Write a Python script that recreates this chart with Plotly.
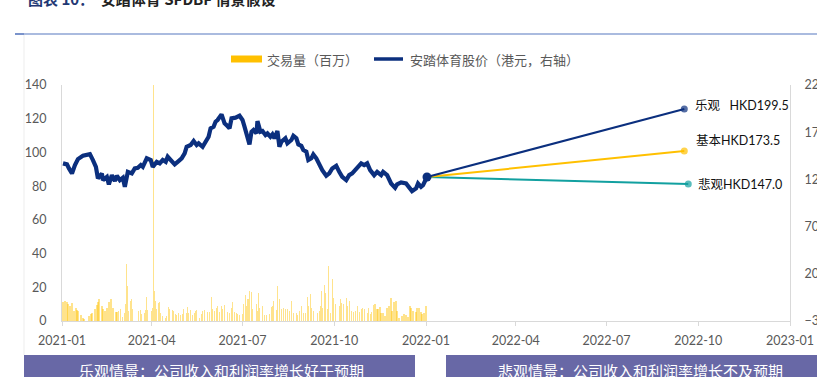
import pandas as pd
import plotly.graph_objects as go

# ---------------- data ----------------
BASE_DATE = "2021-01-01"

# daily trading volume, millions (days since 2021-01-01)
vol_day = [1, 3, 5, 6, 8, 10, 12, 14, 15, 16,
           19, 21, 22, 27, 29, 30, 33, 35, 36, 37,
           40, 41, 43, 45, 47, 49, 51, 54, 55, 57,
           59, 61, 63, 64, 65, 66, 67, 69, 70, 71,
           77, 79, 80, 83, 84, 85, 86, 90, 91, 92,
           93, 94, 95, 97, 98, 99, 101, 104, 105, 107,
           108, 111, 112, 114, 115, 117, 119, 121, 122, 125,
           126, 127, 129, 131, 133, 134, 135, 138, 140, 141,
           143, 146, 148, 150, 151, 153, 155, 156, 158, 160,
           161, 163, 166, 168, 170, 171, 173, 175, 176, 178,
           181, 182, 184, 185, 186, 187, 188, 190, 191, 195,
           196, 197, 198, 201, 203, 205, 208, 210, 211, 212,
           215, 216, 218, 220, 222, 224, 226, 228, 230, 232,
           235, 236, 238, 240, 242, 244, 246, 247, 249, 250,
           252, 256, 258, 259, 260, 261, 263, 264, 266, 267,
           269, 271, 272, 274, 278, 279, 280, 282, 285, 286,
           288, 290, 292, 294, 296, 298, 300, 301, 303, 306,
           307, 309, 310, 312, 314, 316, 317, 319, 320, 322,
           324, 326, 328, 330, 331, 333, 335, 336, 338, 341,
           343, 345, 347, 349, 350, 352, 355, 356, 358, 360,
           361, 363, 365]
vol_val = [11.3, 11.9, 11.3, 9.8, 9.0, 10.5, 6.0, 7.5, 6.7, 6.0,
           3.4, 2.0, 1.4, 3.0, 4.0, 5.0, 7.0, 9.4, 11.3, 13.0,
           8.9, 7.3, 6.0, 7.9, 11.3, 13.3, 7.9, 5.4, 5.4, 6.0,
           6.9, 2.6, 5.0, 9.9, 33.7, 20.8, 6.0, 11.9, 12.9, 6.9,
           6.0, 6.5, 4.0, 5.0, 6.5, 14.5, 6.5, 6.0, 7.9, 160,
           17.8, 11.9, 6.9, 10.9, 11.3, 4.6, 3.0, 2.0, 3.0, 8.5,
           7.3, 6.5, 6.0, 4.0, 3.4, 4.6, 3.4, 4.0, 6.9, 5.0,
           8.5, 4.6, 6.5, 3.4, 5.0, 6.0, 6.5, 2.0, 4.0, 6.0,
           6.3, 5.4, 5.4, 14.5, 6.9, 6.0, 7.9, 8.9, 5.4, 8.9,
           7.3, 9.3, 5.4, 5.0, 7.9, 11.3, 5.4, 4.6, 4.0, 3.4,
           4.0, 9.9, 15.2, 8.9, 12.9, 12.9, 17.8, 17.2, 6.9, 9.9,
           5.9, 16.4, 7.9, 8.9, 3.4, 3.4, 4.0, 8.5, 8.9, 11.9,
           6.5, 20.8, 12.9, 7.3, 7.9, 7.3, 7.3, 5.9, 11.9, 5.0,
           4.6, 3.4, 5.9, 8.9, 4.6, 4.6, 14.5, 8.9, 15.8, 7.9,
           5.9, 4.6, 5.9, 8.9, 17.8, 7.9, 21.2, 16.8, 6.9, 32.7,
           4.9, 24.8, 13.9, 9.9, 8.9, 12.9, 10.9, 9.9, 13.9, 8.9,
           11.9, 5.9, 5.4, 5.9, 8.9, 5.4, 6.9, 7.9, 7.3, 5.0,
           7.9, 4.0, 5.4, 9.3, 9.9, 6.9, 7.3, 8.5, 4.6, 5.0,
           3.0, 7.9, 8.9, 13.9, 5.9, 11.3, 11.9, 5.9, 2.0, 3.0,
           4.0, 3.4, 2.6, 8.9, 7.9, 5.9, 5.4, 7.9, 7.9, 5.4,
           4.0, 5.0, 8.9]

# share price, HKD (right axis), days since 2021-01-01
px_day = [1, 5, 7, 10, 13, 16, 21, 25, 28, 31,
          34, 36, 40, 41, 45, 47, 50, 53, 55, 58,
          61, 63, 66, 70, 73, 76, 79, 81, 85, 89,
          91, 95, 98, 101, 104, 106, 110, 113, 116, 120,
          123, 125, 129, 132, 135, 137, 141, 144, 147, 149,
          152, 154, 156, 160, 163, 165, 168, 170, 174, 178,
          181, 183, 185, 188, 190, 192, 195, 196, 199, 201,
          204, 206, 209, 211, 213, 216, 218, 220, 224, 226,
          230, 232, 235, 237, 240, 242, 245, 247, 250, 252,
          255, 258, 261, 265, 268, 271, 275, 278, 281, 285,
          288, 291, 295, 298, 300, 303, 306, 309, 313, 316,
          320, 322, 326, 330, 334, 336, 340, 345, 348, 351,
          355, 357, 360, 362, 366]
px_val = [137.0, 135.9, 131.6, 126.3, 135.1, 141.5, 145.0, 145.8, 146.8, 140.5,
          133.3, 121.0, 126.3, 119.2, 122.7, 114.7, 124.5, 118.2, 123.8, 119.2,
          121.7, 112.1, 128.0, 126.3, 131.6, 132.3, 135.2, 133.3, 142.3, 140.5,
          133.3, 138.6, 137.0, 140.5, 138.6, 144.0, 138.6, 135.9, 138.6, 142.3,
          147.6, 154.6, 156.4, 160.6, 156.4, 158.2, 154.6, 159.9, 165.2, 174.1,
          175.8, 181.1, 182.9, 188.9, 179.4, 177.6, 174.1, 184.7, 185.4, 187.4,
          182.9, 175.8, 168.8, 157.1, 170.5, 172.3, 168.8, 181.8, 170.5, 171.2,
          167.0, 168.8, 165.2, 167.7, 163.5, 171.2, 154.6, 159.9, 163.5, 158.2,
          161.7, 166.2, 163.5, 157.1, 155.6, 151.1, 149.3, 140.5, 142.3, 146.5,
          142.3, 135.2, 129.8, 123.8, 126.3, 131.6, 134.4, 128.0, 122.7, 119.2,
          124.5, 126.3, 131.6, 135.2, 137.0, 135.2, 137.0, 129.8, 124.5, 128.0,
          124.5, 128.0, 124.5, 115.7, 111.1, 114.7, 116.8, 115.7, 112.1, 107.6,
          110.4, 115.7, 112.1, 113.9, 122.5]

# scenario projections (end points as drawn on the right axis)
scen_names = ["乐观", "基本", "悲观"]
scen_labels = ["乐观\u2002\u00a0HKD199.5", "基本HKD173.5", "悲观HKD147.0"]
scen_end_date = ["2022-09-17", "2022-09-17", "2022-09-21"]
scen_end_val = [194.5, 150.0, 115.0]
scen_colors = ["#0B2F7E", "#FFC000", "#12A0A0"]

# ---------------- figure ----------------
base = pd.Timestamp(BASE_DATE)
vol_dates = [base + pd.Timedelta(days=d) for d in vol_day]
px_dates = [base + pd.Timedelta(days=d) for d in px_day]

NAVY = "#0B2F7E"
GREY_TXT = "#595959"
AXIS = "#D9D9D9"
TICKFONT = dict(family="Lato, Noto Sans CJK SC", size=12.5, color=GREY_TXT)
CJK = "Noto Sans CJK SC"

fig = go.Figure()
fig.add_bar(x=vol_dates, y=vol_val, yaxis="y", name="交易量（百万）",
            marker=dict(color="rgba(255,192,0,0.45)", line_width=0),
            width=86400000 * 1.3, showlegend=False)
fig.add_scatter(x=px_dates, y=px_val, yaxis="y2", mode="lines",
                name="安踏体育股价（港元，右轴）",
                line=dict(color=NAVY, width=4.2), showlegend=False)

start_date, start_val = px_dates[-1], px_val[-1]
for i in [2, 1, 0]:
    fig.add_scatter(x=[start_date, pd.Timestamp(scen_end_date[i])],
                    y=[start_val, scen_end_val[i]], yaxis="y2",
                    mode="lines+markers", name=scen_names[i],
                    line=dict(color=scen_colors[i], width=2),
                    marker=dict(size=[0, 7], color=scen_colors[i], line_width=0),
                    showlegend=False)
fig.add_scatter(x=[start_date], y=[start_val], yaxis="y2", mode="markers",
                marker=dict(size=9, color=NAVY, line_width=0), showlegend=False)

# layout helpers (pixel -> paper)
L, R, T, B = 62, 27, 85, 56
W, H = 817, 377
PW, PH = W - L - R, H - T - B


def pxx(x):
    return (x - L) / PW


def pyy(y):
    return (H - B - y) / PH


shapes = [
    dict(type="line", xref="paper", yref="paper", x0=pxx(15), x1=pxx(817),
         y0=pyy(34), y1=pyy(34), line=dict(color="#8EA5D5", width=1.5)),
    dict(type="line", xref="paper", yref="paper", x0=pxx(15), x1=pxx(24),
         y0=pyy(34), y1=pyy(34), line=dict(color="#6A86C4", width=1.5)),
    dict(type="line", xref="paper", yref="paper", x0=pxx(24), x1=pxx(24),
         y0=pyy(35), y1=pyy(355), line=dict(color="#EDEDED", width=1)),
    dict(type="rect", xref="paper", yref="paper", x0=pxx(231), x1=pxx(262),
         y0=pyy(62.5), y1=pyy(55.5), fillcolor="#FFC000", line_width=0),
    dict(type="line", xref="paper", yref="paper", x0=pxx(374), x1=pxx(403),
         y0=pyy(59), y1=pyy(59), line=dict(color=NAVY, width=3.5)),
    dict(type="rect", xref="paper", yref="paper", x0=pxx(24), x1=pxx(415),
         y0=pyy(390), y1=pyy(355), fillcolor="#6868A6", line_width=0),
    dict(type="rect", xref="paper", yref="paper", x0=pxx(446), x1=pxx(830),
         y0=pyy(390), y1=pyy(355), fillcolor="#6868A6", line_width=0),
]

annotations = [
    dict(xref="paper", yref="paper", x=pxx(26), y=pyy(-2), xanchor="left",
         yanchor="middle", showarrow=False,
         text="<b>图表 10：</b>  <b><span style='color:#222222'>安踏体育 SFDBF 情景假设</span></b>",
         font=dict(family=CJK, size=15, color="#1F3874")),
    dict(xref="paper", yref="paper", x=pxx(265), y=pyy(59), xanchor="left",
         yanchor="middle", showarrow=False, text="交易量（百万）",
         font=dict(family=CJK, size=13, color=GREY_TXT)),
    dict(xref="paper", yref="paper", x=pxx(408), y=pyy(59), xanchor="left",
         yanchor="middle", showarrow=False, text="安踏体育股价（港元，右轴）",
         font=dict(family=CJK, size=13, color=GREY_TXT)),
    dict(xref="paper", yref="paper", x=pxx(221), y=pyy(370), xanchor="center",
         yanchor="middle", showarrow=False, text="乐观情景：公司收入和利润率增长好于预期",
         font=dict(family=CJK, size=15, color="white")),
    dict(xref="paper", yref="paper", x=pxx(640), y=pyy(370), xanchor="center",
         yanchor="middle", showarrow=False, text="悲观情景：公司收入和利润率增长不及预期",
         font=dict(family=CJK, size=15, color="white")),
]
label_shift = [(9, 4), (10, 11), (8, 0)]
for i in range(3):
    annotations.append(dict(
        xref="x", yref="y2", x=pd.Timestamp(scen_end_date[i]), y=scen_end_val[i],
        xanchor="left", yanchor="middle", showarrow=False, text=scen_labels[i],
        xshift=label_shift[i][0], yshift=label_shift[i][1],
        font=dict(family="Lato, Noto Sans CJK SC", size=12.5, color="#111111")))

fig.update_layout(
    template="none",
    width=W, height=H,
    margin=dict(l=L, r=R, t=T, b=B, pad=0),
    paper_bgcolor="white", plot_bgcolor="white",
    showlegend=False,
    bargap=0,
    xaxis=dict(type="date", range=["2021-01-01", "2023-01-01"], dtick="M3",
               tick0="2021-01-01", tickformat="%Y-%m", showgrid=False,
               zeroline=False, showline=True, linecolor=AXIS, linewidth=1,
               ticks="outside", ticklen=4, tickcolor=AXIS, tickfont=TICKFONT,
               ticklabelstandoff=4, automargin=False),
    yaxis=dict(range=[0, 140], dtick=20, tick0=0, showgrid=False, zeroline=False,
               showline=True, linecolor=AXIS, linewidth=1, ticks="",
               tickfont=TICKFONT, ticklabelstandoff=12, automargin=False),
    yaxis2=dict(range=[-30, 220], dtick=50, tick0=-30, overlaying="y",
                side="right", showgrid=False, zeroline=False, showline=True,
                linecolor=AXIS, linewidth=1, ticks="", tickfont=TICKFONT,
                ticklabelstandoff=11, automargin=False),
    shapes=shapes,
    annotations=annotations,
)

# the page's default 8px body margin would shift the figure; remove it
fig.write_html("out.html", config={"displayModeBar": False},
               post_script="document.body.style.margin='0';document.body.style.padding='0';")
